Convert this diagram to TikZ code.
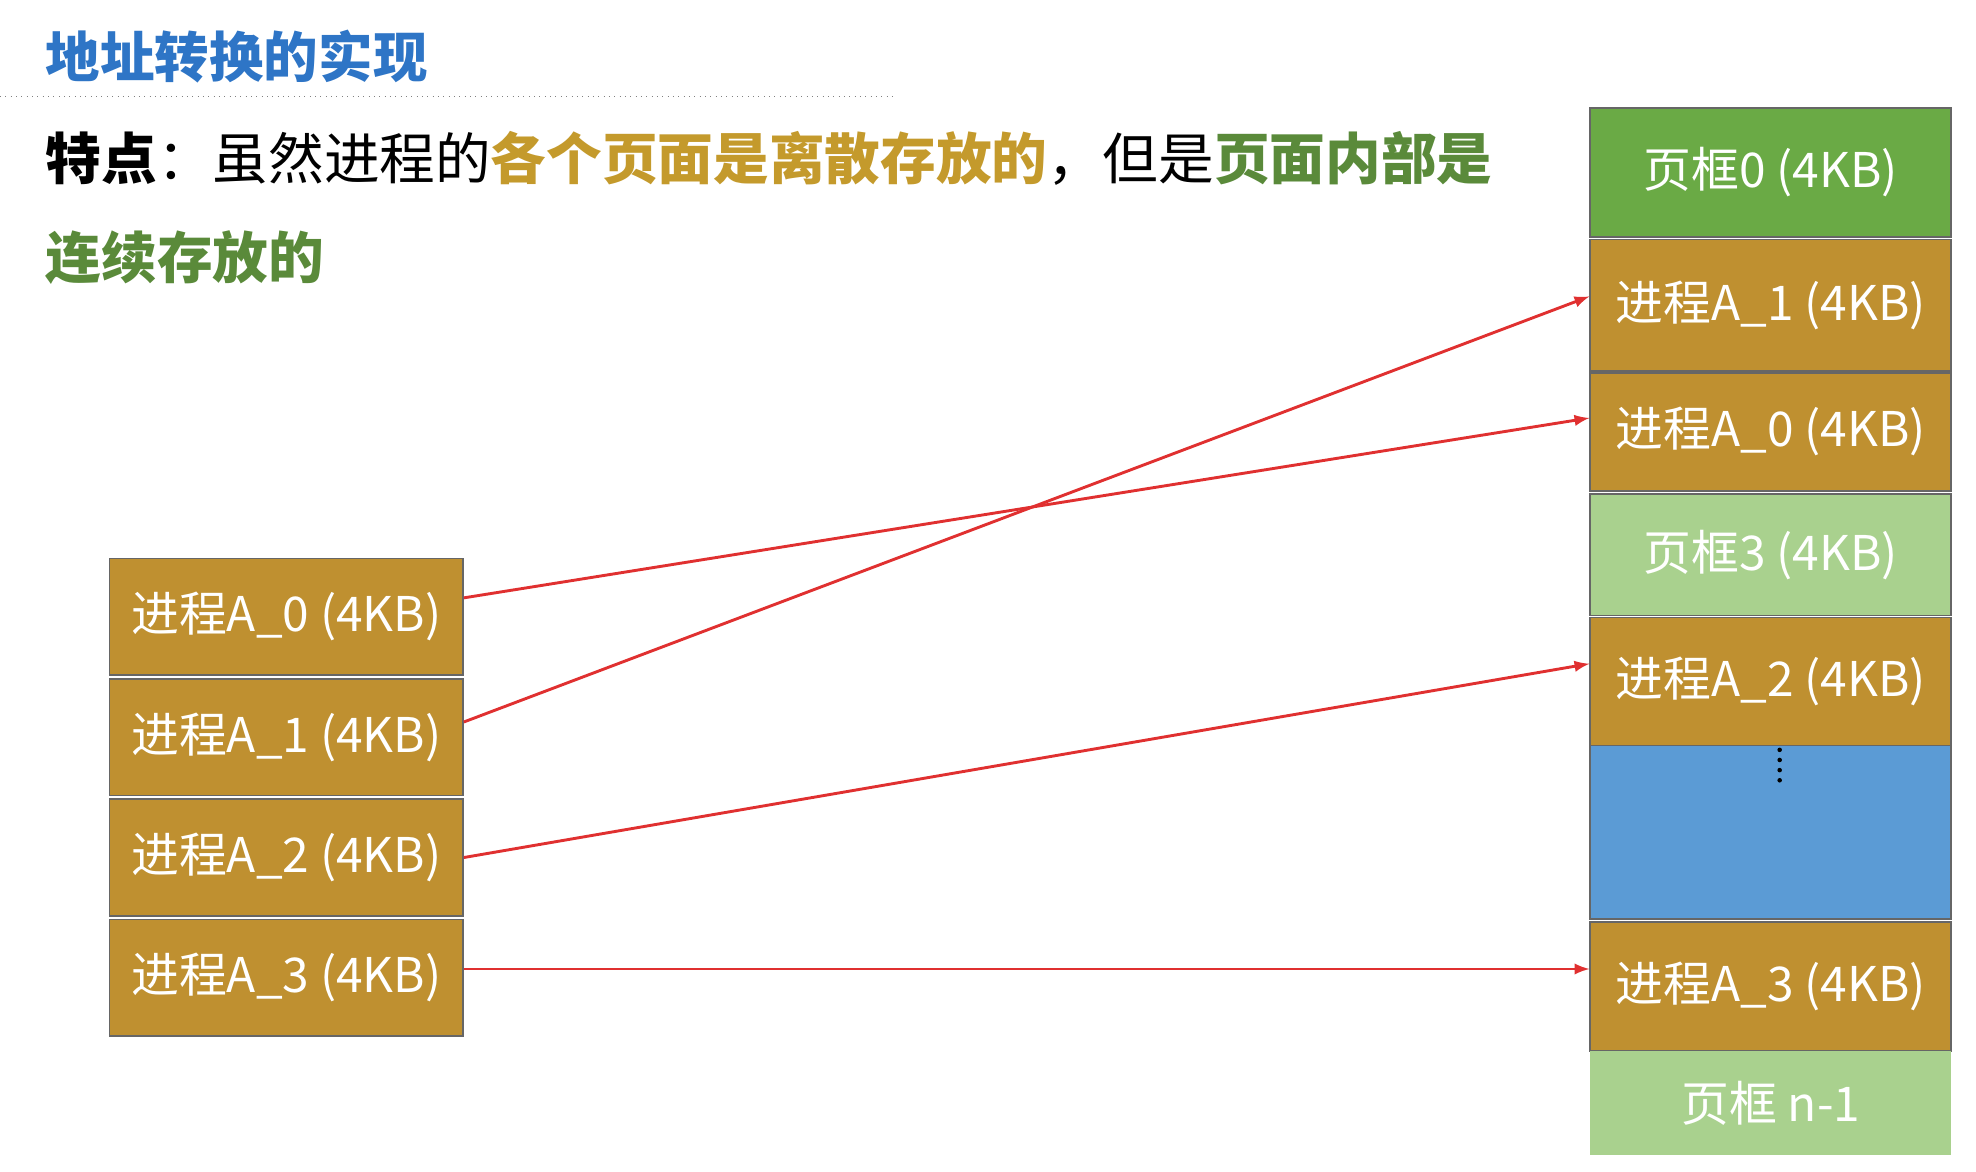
\documentclass[tikz,border=0pt]{standalone}
\usepackage{fontspec}
\setmainfont{Noto Sans CJK SC}
\usetikzlibrary{positioning}
\definecolor{gold}{HTML}{BF9030}
\definecolor{dgreen}{HTML}{6AAA45}
\definecolor{lgreen}{HTML}{A9D18E}
\definecolor{mblue}{HTML}{5B9BD5}
\definecolor{tblue}{HTML}{2E75C6}
\definecolor{tgold}{HTML}{C49A2C}
\definecolor{tgreen}{HTML}{5A8A3A}
\definecolor{ared}{HTML}{E03030}
\begin{document}
\begin{tikzpicture}[x=0.02cm,y=-0.02cm]
			\tikzset{seite/.style={draw=black!60, thick, text=white, font=\fontsize{21.5}{24}\selectfont, inner sep=0, minimum width=5.58cm},
				pfeil/.style={line width=1.3pt, draw=ared, -latex}}
			\useasboundingbox (0,0) rectangle (1560,925);
			\node[anchor=west, text=tblue, font=\fontsize{24.5}{28}\selectfont\bfseries] at (30,45) (t) {地址转换的实现};
			\draw [dotted, black!50] (0,76) -- (705,76);
			\node[anchor=west, font=\fontsize{25}{29}\selectfont] at (30,125) (p) {\textbf{特点}：虽然进程的\textcolor{tgold}{\textbf{各个页面是离散存放的}}，但是\textcolor{tgreen}{\textbf{页面内部是}}};
			\node[anchor=west, text=tgreen, font=\fontsize{25}{29}\selectfont\bfseries] at (30,203) (q) {连续存放的};

			% Prozess links
			\node[seite, fill=gold, minimum height=1.84cm] at (226,487) (a0) {进程A\_0 (4KB)};
			\node[seite, fill=gold, minimum height=1.84cm] at (226,582) (a1) {进程A\_1 (4KB)};
			\node[seite, fill=gold, minimum height=1.84cm] at (226,677) (a2) {进程A\_2 (4KB)};
			\node[seite, fill=gold, minimum height=1.84cm] at (226,772) (a3) {进程A\_3 (4KB)};

			% Speicher rechts
			\node[seite, fill=dgreen, minimum width=5.7cm, minimum height=2.04cm] at (1398,136) (r0) {页框0 (4KB)};
			\node[seite, fill=gold, minimum width=5.7cm, minimum height=2.08cm] at (1398,241) (r1) {进程A\_1 (4KB)};
			\node[seite, fill=gold, minimum width=5.7cm, minimum height=1.86cm] at (1398,341) (r2) {进程A\_0 (4KB)};
			\node[seite, fill=lgreen, minimum width=5.7cm, minimum height=1.92cm] at (1398,438) (r3) {页框3 (4KB)};
			\node[seite, fill=gold, minimum width=5.7cm, minimum height=2.02cm] at (1398,538) (r4) {进程A\_2 (4KB)};
			\node[fill=mblue, draw=black!60, thick, minimum width=5.7cm, minimum height=2.74cm, inner sep=0] at (1398,657) (r5) {};
			\node[seite, fill=gold, minimum width=5.7cm, minimum height=2.04cm] at (1398,779) (r6) {进程A\_3 (4KB)};
			\node[seite, fill=lgreen, draw=none, minimum width=5.7cm, minimum height=1.64cm] at (1398,871) (r7) {页框 n-1};
			\foreach \y in {592,600,608,616} \fill (1405,\y) circle (1.8);

			% Pfeile
			\draw [pfeil] (a0.east) ++(0,-15) coordinate (s0) -- (r2.west |- 0,330);
			\draw [pfeil] (a1.east) ++(0,-12) coordinate (s1) -- (r1.west |- 0,234);
			\draw [pfeil] (a2.east) -- (r4.west |- 0,524);
			\draw [pfeil] (a3.east) ++(0,-7) -- (r6.west |- 0,765);
		\end{tikzpicture}
\end{document}
